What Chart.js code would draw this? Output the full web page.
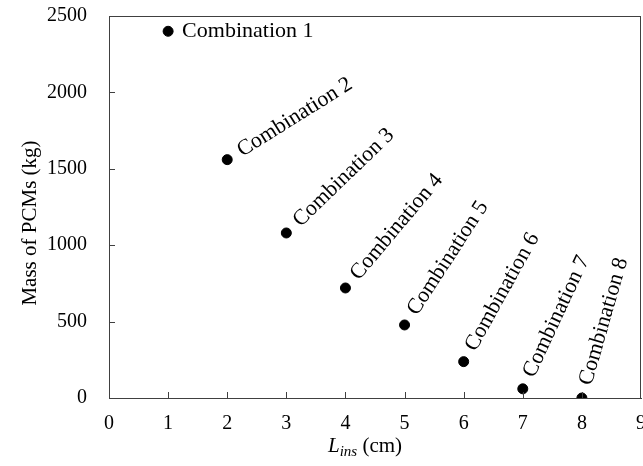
<!DOCTYPE html>
<html>
<head>
<meta charset="utf-8">
<script src="https://cdn.jsdelivr.net/npm/chart.js@4.4.1/dist/chart.umd.min.js"></script>
<style>
  html, body { margin: 0; padding: 0; background: #fff; }
  #wrap { width: 643px; height: 466px; }
</style>
</head>
<body>
<div id="wrap"><canvas id="massChart"></canvas></div>
<script>
// data
const insThickness = [1, 2, 3, 4, 5, 6, 7, 8];
const pcmMass = [2400, 1560, 1080, 720, 478, 238, 60, 0];
const pointLabels = ['Combination 1', 'Combination 2', 'Combination 3', 'Combination 4',
                     'Combination 5', 'Combination 6', 'Combination 7', 'Combination 8'];
const labelAngles = [0, 32, 44, 50, 57, 61, 65, 74];
const xTicks = [0, 1, 2, 3, 4, 5, 6, 7, 8, 9];
const yTicks = [0, 500, 1000, 1500, 2000, 2500];

const serif = '"Liberation Serif", "DejaVu Serif", serif';
const axisColor = '#404040';

// inward ticks, box border, point labels and both axis titles
const decorations = {
    id: 'decorations',
    afterDatasetsDraw(chart) {
        const ctx = chart.ctx;
        const area = chart.chartArea;
        const xs = chart.scales.x, ys = chart.scales.y;
        ctx.save();
        ctx.strokeStyle = axisColor;
        ctx.lineWidth = 1;
        ctx.beginPath();
        xTicks.forEach(v => {
            if (v === 0 || v === 9) return;
            const px = Math.round(xs.getPixelForValue(v)) + 0.5;
            ctx.moveTo(px, area.bottom);
            ctx.lineTo(px, area.bottom - 6);
        });
        yTicks.forEach(v => {
            if (v === 0 || v === 2500) return;
            const py = Math.round(ys.getPixelForValue(v)) + 0.5;
            ctx.moveTo(area.left, py);
            ctx.lineTo(area.left + 6, py);
        });
        ctx.stroke();
        ctx.strokeRect(Math.round(area.left) + 0.5, Math.round(area.top) + 0.5,
                       Math.round(area.right - area.left) - 1, Math.round(area.bottom - area.top));

        ctx.fillStyle = '#000';
        ctx.font = '22px ' + serif;
        ctx.textBaseline = 'middle';
        ctx.textAlign = 'left';
        const meta = chart.getDatasetMeta(0);
        meta.data.forEach((pt, i) => {
            ctx.save();
            ctx.translate(pt.x, pt.y);
            ctx.rotate(-labelAngles[i] * Math.PI / 180);
            ctx.fillText(pointLabels[i], 14, 0);
            ctx.restore();
        });

        // y axis title
        ctx.save();
        ctx.translate(30, 223);
        ctx.rotate(-Math.PI / 2);
        ctx.textAlign = 'center';
        ctx.font = '21px ' + serif;
        ctx.fillText('Mass of PCMs (kg)', 0, 0);
        ctx.restore();

        // x axis title: L_ins (cm)
        const cx = 365;
        const y = 452;
        ctx.textBaseline = 'alphabetic';
        ctx.font = 'italic 21px ' + serif;
        const wL = ctx.measureText('L').width;
        ctx.font = 'italic 15px ' + serif;
        const wSub = ctx.measureText('ins').width;
        ctx.font = '21px ' + serif;
        const wRest = ctx.measureText(' (cm)').width;
        let x0 = cx - (wL + wSub + wRest) / 2;
        ctx.font = 'italic 21px ' + serif;
        ctx.fillText('L', x0, y);
        ctx.font = 'italic 15px ' + serif;
        ctx.fillText('ins', x0 + wL, y + 4);
        ctx.font = '21px ' + serif;
        ctx.fillText(' (cm)', x0 + wL + wSub, y);
        ctx.restore();
    }
};

const ctx = document.getElementById('massChart').getContext('2d');
let massChart = new Chart(ctx, {
    type: 'scatter',
    data: {
        datasets: [{
            label: 'Mass of PCMs',
            data: insThickness.map((x, i) => ({ x: x, y: pcmMass[i] })),
            backgroundColor: '#000',
            borderColor: '#000',
            pointRadius: 5,
            pointHoverRadius: 5
        }]
    },
    options: {
        responsive: true,
        maintainAspectRatio: false,
        animation: false,
        layout: { autoPadding: false, padding: { top: 16, right: 2, left: 0, bottom: 0 } },
        plugins: { legend: { display: false }, tooltip: { enabled: false } },
        scales: {
            x: {
                type: 'linear',
                min: 0, max: 9,
                afterBuildTicks: s => { s.ticks = xTicks.map(v => ({ value: v })); },
                afterFit: s => { s.height = 68; s.paddingLeft = 0; s.paddingRight = 0; },
                grid: { display: false },
                border: { display: true, color: axisColor, width: 1 },
                ticks: { color: '#000', font: { family: serif, size: 20 }, padding: 6, maxRotation: 0,
                         callback: v => String(v) }
            },
            y: {
                min: 0, max: 2500,
                afterBuildTicks: s => { s.ticks = yTicks.map(v => ({ value: v })); },
                afterFit: s => { s.width = 109; s.paddingTop = 0; s.paddingBottom = 0; },
                grid: { display: false },
                border: { display: true, color: axisColor, width: 1 },
                ticks: { color: '#000', font: { family: serif, size: 20 }, padding: 14,
                         callback: v => String(v) }
            }
        }
    },
    plugins: [decorations]
});
</script>
</body>
</html>
